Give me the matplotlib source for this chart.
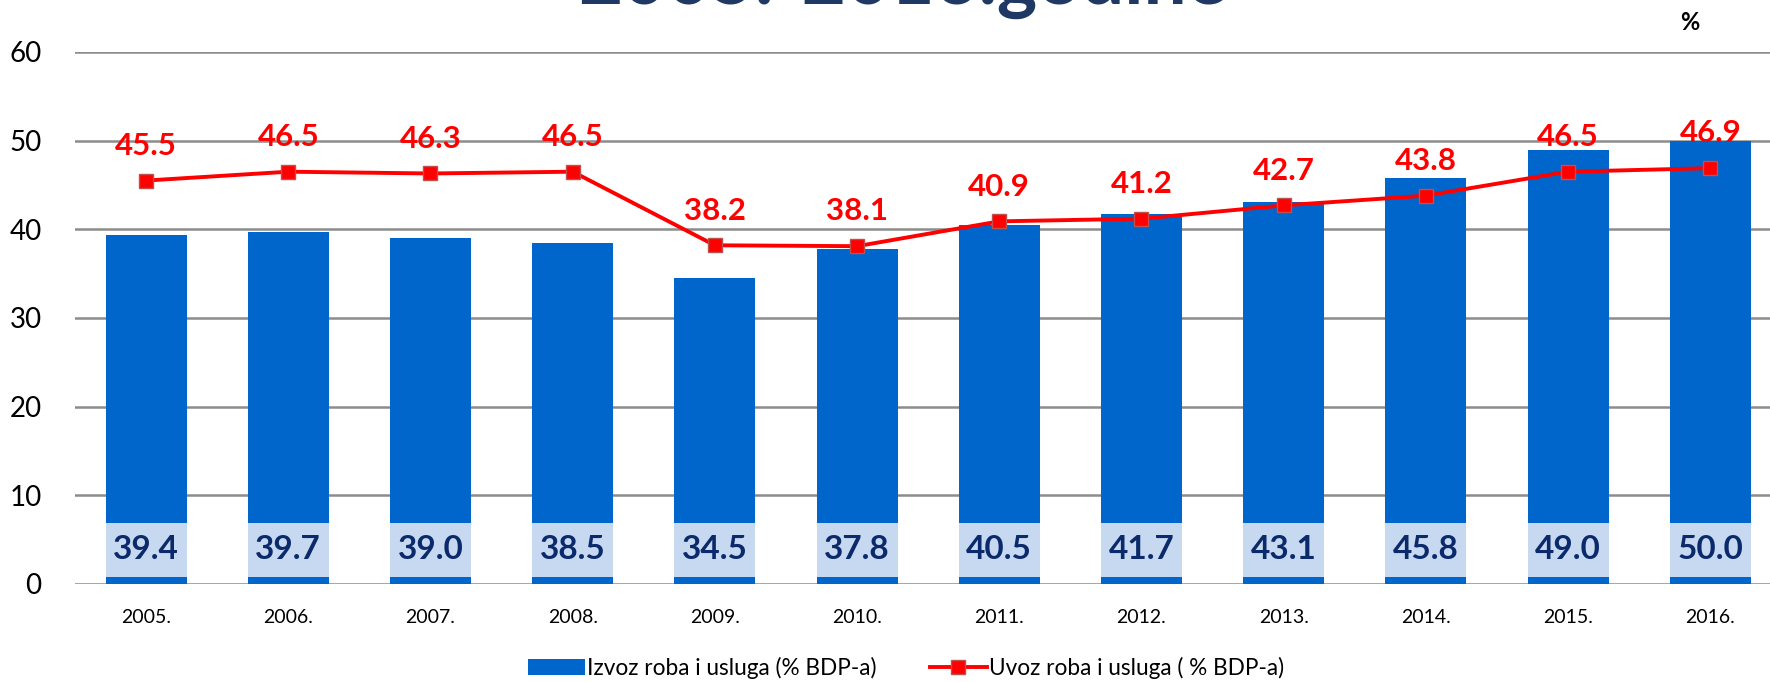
import matplotlib
matplotlib.use("Agg")
import matplotlib.pyplot as plt
from matplotlib.lines import Line2D
from matplotlib.patches import Patch

years = ["2005.", "2006.", "2007.", "2008.", "2009.", "2010.", "2011.",
         "2012.", "2013.", "2014.", "2015.", "2016."]
izvoz = [39.4, 39.7, 39.0, 38.5, 34.5, 37.8, 40.5, 41.7, 43.1, 45.8, 49.0, 50.0]
uvoz = [45.5, 46.5, 46.3, 46.5, 38.2, 38.1, 40.9, 41.2, 42.7, 43.8, 46.5, 46.9]
yticks = [0, 10, 20, 30, 40, 50, 60]
title = "2005.-2016.godine"
unit = "%"
label_izvoz = "Izvoz roba i usluga (% BDP-a)"
label_uvoz = "Uvoz roba i usluga ( % BDP-a)"

plt.rcParams['font.family'] = ['Lato', 'DejaVu Sans']

fig = plt.figure(figsize=(17.7, 6.82), dpi=100)
ax = fig.add_axes([75/1770, 1 - 584/682, 1 - 75/1770, (584 - 52)/682])

x = list(range(len(years)))
bar_blue = "#0066CC"
red = "#FF0000"
ax.bar(x, izvoz, width=0.57, color=bar_blue, zorder=2)
# light label boxes
ax.bar(x, [6.1]*len(x), bottom=0.8, width=0.57, color="#C6D9F1", zorder=3)
for xi, v in zip(x, izvoz):
    ax.text(xi, 3.85, f"{v:.1f}", ha="center", va="center", fontsize=24,
            fontweight="bold", color="#0B2A6B", zorder=4)

ax.plot(x, uvoz, color=red, lw=2.8, marker="s", markersize=10.3,
        markerfacecolor=red, markeredgecolor="#C0504D", markeredgewidth=1,
        zorder=5)
for xi, v in zip(x, uvoz):
    ax.annotate(f"{v:.1f}", (xi, v), xytext=(0, 25), textcoords="offset points",
                ha="center", va="center", fontsize=22.5, fontweight="bold",
                color=red, zorder=6)

ax.set_xlim(-0.5, 11.42)
ax.set_ylim(0, 60)
ax.set_yticks(yticks)
ax.set_xticks(x)
ax.set_xticklabels(years, fontsize=14)
ax.tick_params(axis="y", labelsize=20, length=0, pad=24)
ax.tick_params(axis="x", length=0, pad=18)
for t in yticks:
    ax.axhline(t, color="#8C8C8C", lw=1.8, zorder=1)
for s in ax.spines.values():
    s.set_visible(False)

fig.text(903/1770, 1 - 4/682, title, ha="center", va="baseline", fontsize=55,
         fontweight="bold", color="#1F3864")
fig.text(1690/1770, 1 - 23/682, unit, ha="center", va="center", fontsize=17,
         fontweight="bold", color="black")

handles = [Patch(facecolor=bar_blue, label=label_izvoz),
           Line2D([0], [0], color=red, lw=2.8, marker="s", markersize=10.3,
                  markerfacecolor=red, markeredgecolor="#C0504D",
                  label=label_uvoz)]
fig.legend(handles=handles, loc="center", bbox_to_anchor=(0.512, 1 - 668/682),
           ncol=2, frameon=False, fontsize=16.3, handlelength=2.5,
           handleheight=0.7, handletextpad=0.1, columnspacing=2.35)

fig.savefig("out.png", dpi=100)
